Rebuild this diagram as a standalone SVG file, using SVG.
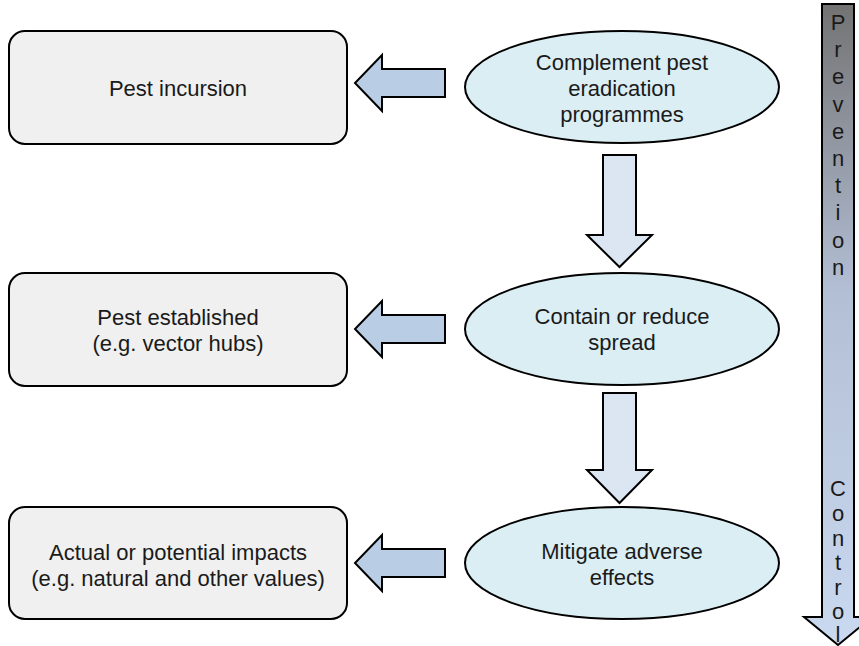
<svg xmlns="http://www.w3.org/2000/svg" width="859" height="646" viewBox="0 0 859 646">
<style>
text{font-family:"Liberation Sans",Arial,sans-serif;font-size:22px;fill:#1a1a1a;text-anchor:middle}
.box{fill:#f0f0f0;stroke:#000;stroke-width:2}
.ell{fill:#dbeef4;stroke:#000;stroke-width:2}
.larr{fill:#b9cde5;stroke:#000;stroke-width:2;stroke-linejoin:miter}
.darr{fill:#dce6f2;stroke:#000;stroke-width:2}
.vt{font-size:22px}
</style>
<defs>
<linearGradient id="vg" x1="0" y1="0" x2="0" y2="1">
<stop offset="0" stop-color="#737373"/>
<stop offset="0.45" stop-color="#b3bfd5"/>
<stop offset="1" stop-color="#c9d9ef"/>
</linearGradient>
</defs>
<g id="box-incursion"><rect class="box" x="9" y="31" width="338" height="113" rx="16"/><text x="178" y="96">Pest incursion</text></g>
<g id="box-established"><rect class="box" x="9" y="273" width="338" height="113" rx="16"/><text x="178" y="325">Pest established</text><text x="178" y="351">(e.g. vector hubs)</text></g>
<g id="box-impacts"><rect class="box" x="9" y="507" width="338" height="112" rx="16"/><text x="178" y="560">Actual or potential impacts</text><text x="178" y="586">(e.g. natural and other values)</text></g>
<g id="ell-complement"><ellipse class="ell" cx="622" cy="87" rx="157" ry="56"/><text x="622" y="70">Complement pest</text><text x="622" y="96">eradication</text><text x="622" y="122">programmes</text></g>
<g id="ell-contain"><ellipse class="ell" cx="622" cy="329" rx="157" ry="56"/><text x="622" y="324">Contain or reduce</text><text x="622" y="350">spread</text></g>
<g id="ell-mitigate"><ellipse class="ell" cx="622" cy="563" rx="157" ry="56"/><text x="622" y="559">Mitigate adverse</text><text x="622" y="585">effects</text></g>
<g id="connectors">
<polygon class="larr" points="445,69 382,69 382,55 355,83 382,111 382,97 445,97"/>
<polygon class="larr" points="445,315 382,315 382,301 355,329 382,357 382,343 445,343"/>
<polygon class="larr" points="445,549 382,549 382,535 355,563 382,591 382,577 445,577"/>
<polygon class="darr" points="603,155 636,155 636,235 652,235 619.5,267 587,235 603,235"/>
<polygon class="darr" points="603,393 636,393 636,470 652,470 619.5,503 587,470 603,470"/>
</g>
<g id="prevention-control">
<polygon points="822,4 854,4 854,617 872,617 838,645 804,617 822,617" fill="url(#vg)" stroke="#000" stroke-width="2"/>
<text class="vt" x="838" y="30">P</text>
<text class="vt" x="838" y="57">r</text>
<text class="vt" x="838" y="84">e</text>
<text class="vt" x="838" y="112">v</text>
<text class="vt" x="838" y="139">e</text>
<text class="vt" x="838" y="166">n</text>
<text class="vt" x="838" y="193">t</text>
<text class="vt" x="838" y="220">i</text>
<text class="vt" x="838" y="248">o</text>
<text class="vt" x="838" y="275">n</text>
<text class="vt" x="838" y="496">C</text>
<text class="vt" x="838" y="521">o</text>
<text class="vt" x="838" y="546">n</text>
<text class="vt" x="838" y="570">t</text>
<text class="vt" x="838" y="595">r</text>
<text class="vt" x="838" y="619">o</text>
<text class="vt" x="838" y="642">l</text>
</g>
</svg>
